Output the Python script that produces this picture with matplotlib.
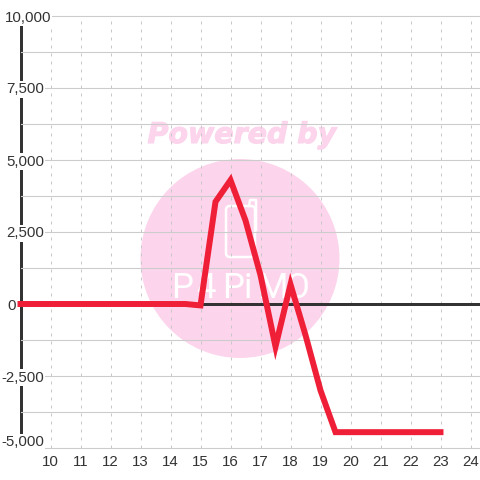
import matplotlib
matplotlib.use("Agg")
import matplotlib.pyplot as plt
from matplotlib.patches import Circle, FancyBboxPatch
from matplotlib.ticker import FuncFormatter
from matplotlib.transforms import ScaledTranslation
import matplotlib.patheffects as pe

x_values = [9, 10, 11, 12, 13, 14, 14.5, 15, 15.5, 16, 16.5, 17, 17.5, 18, 18.5, 19, 19.5, 20, 21, 22, 23]
y_values = [0, 0, 0, 0, 0, 0, 0, -50, 3550, 4300, 2900, 1000, -1480, 680, -1080, -3000, -4450, -4450, -4450, -4450, -4450]
y_ticks = [-5000, -2500, 0, 2500, 5000, 7500, 10000]
x_ticks = list(range(10, 25))
logo_letters = ['P', '4', 'P', 'i', 'M', 'O']

plt.rcParams['font.family'] = ['Liberation Sans', 'DejaVu Sans']
W = 480
fig = plt.figure(figsize=(4.8, 4.8), dpi=100, facecolor='white')

# watermark, in pixel coordinates
bg = fig.add_axes([0, 0, 1, 1], zorder=0)
bg.set_xlim(0, W); bg.set_ylim(W, 0); bg.axis('off')
pink = '#fcd5ec'
bg.add_patch(Circle((240, 258.5), 99.5, fc=pink, ec='none'))
bg.text(242, 135, 'Powered by', color=pink, fontsize=20.5, fontweight='bold', style='italic',
        family='DejaVu Sans', ha='center', va='center',
        path_effects=[pe.withStroke(linewidth=0.8, foreground=pink)])
bg.add_patch(FancyBboxPatch((226, 206), 29, 51, boxstyle='round,pad=0,rounding_size=4',
                            fc='none', ec='white', lw=1.8))
bg.plot([249, 250, 256, 256], [206, 200, 200, 230], color='white', lw=1.8)
for letter, cx in zip(logo_letters, [182, 206, 233, 248, 272, 298]):
    bg.text(cx, 288, letter, color='white', fontsize=25, family='Roboto',
            ha='center', va='center')

ax = fig.add_axes([20.5 / W, 1 - 448 / W, (W - 20.5) / W, 432 / W], zorder=1)
ax.patch.set_alpha(0)
ax.set_xlim(9, 9 + (W - 20.5) / 30)
ax.set_ylim(-5000, 10000)
for s in ax.spines.values():
    s.set_visible(False)

ax.set_axisbelow(True)
ax.set_yticks(y_ticks)
ax.set_yticks([v + 1250 for v in y_ticks[:-1]], minor=True)
ax.set_xticks(x_ticks)
ax.grid(True, axis='y', which='both', color='#cccccc', lw=0.8)
ax.grid(True, axis='x', which='major', color='#c8c8c8', lw=0.72, ls=(0, (3, 5)))
for g in ax.get_ygridlines():
    g.set_clip_on(False)
ax.axhline(0, color='#333333', lw=2.16, zorder=2)
ax.axvline(9, color='#333333', lw=2.16, clip_on=False, zorder=0.4)
ax.plot(x_values, y_values, color='#f01f38', lw=4.3, zorder=3, solid_joinstyle='miter',
        solid_capstyle='projecting', clip_on=False)

ax.yaxis.set_major_formatter(FuncFormatter(lambda v, p: f'{int(v):,}'))
ax.tick_params(axis='both', which='both', length=0)
ax.tick_params(axis='y', pad=-17, labelsize=10.8, labelcolor='#333333')
ax.tick_params(axis='x', pad=5, labelsize=10.8, labelcolor='#333333')
fig.canvas.draw()
for t, v in zip(ax.get_yticklabels(), y_ticks):
    dx, dy = 0, 0
    if v != 0:
        t.set_bbox(dict(fc='white', ec='none', pad=1.0))
    else:
        dx = -28 / 100
    if v == 10000:
        dx = 7 / 100
    if v == -5000:
        dy = 7 / 100
    if dx or dy:
        t.set_transform(t.get_transform() + ScaledTranslation(dx, dy, fig.dpi_scale_trans))

fig.savefig('out.png', dpi=100)
